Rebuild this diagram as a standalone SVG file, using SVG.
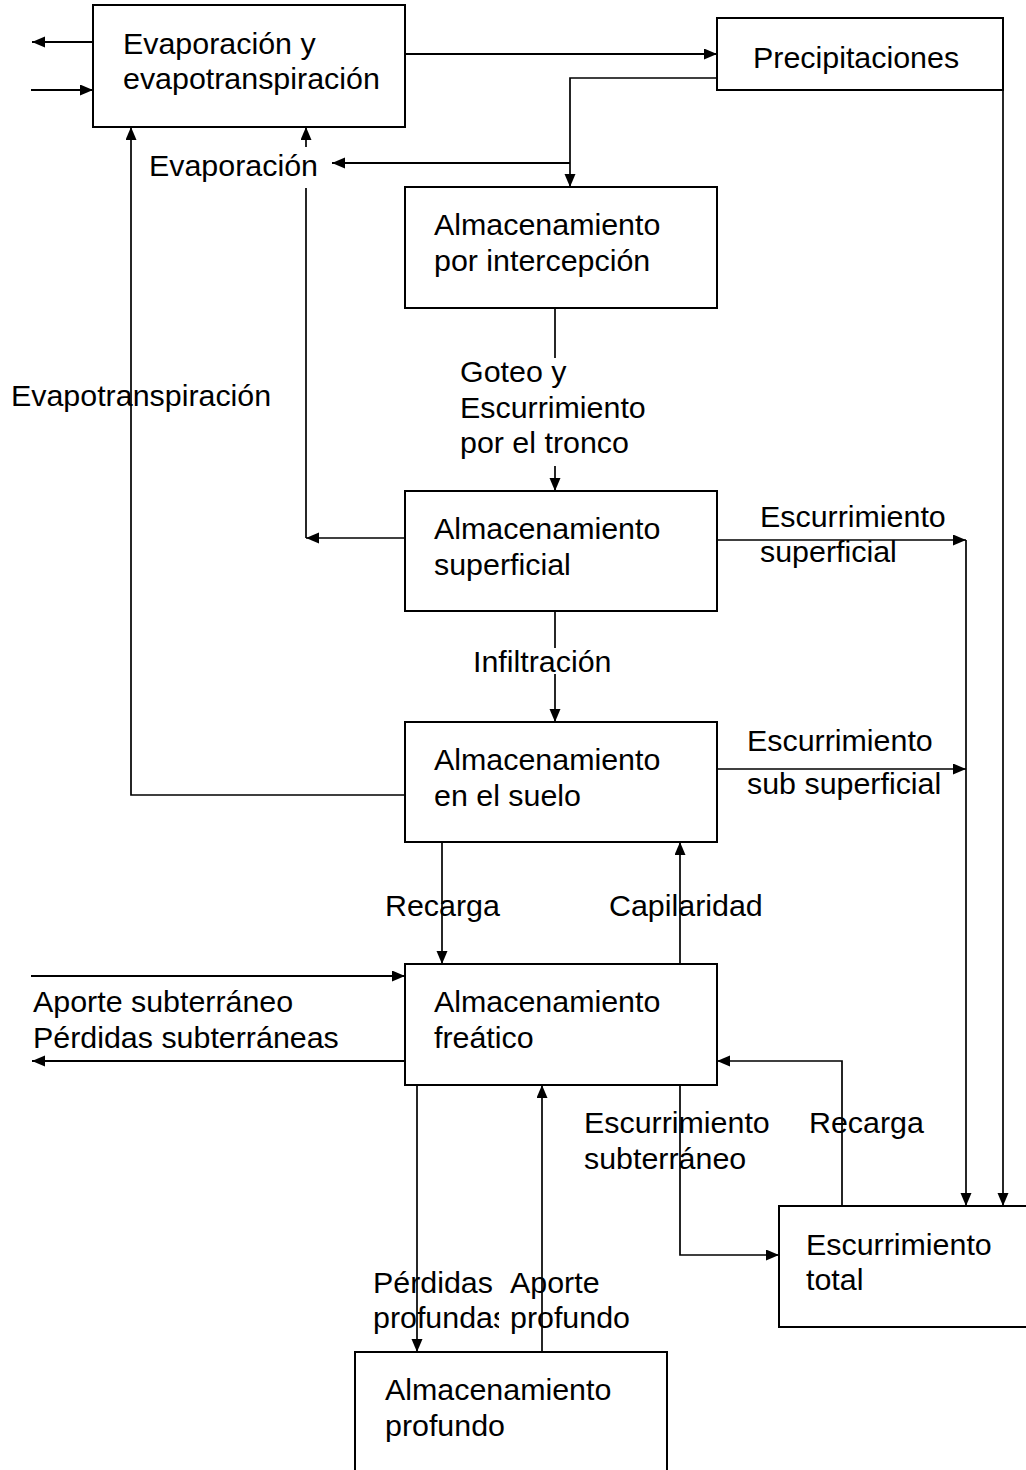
<svg xmlns="http://www.w3.org/2000/svg" width="1026" height="1470" viewBox="0 0 1026 1470">
<style>
.box{fill:#fff;stroke:#000;stroke-width:2}
.ln{fill:none;stroke:#000;stroke-width:1.7}
.lnb{fill:none;stroke:#000;stroke-width:2.2}
text{font-family:"Liberation Sans",Arial,sans-serif;font-size:30.4px;fill:#000}
.bg{fill:#fff;stroke:none}
</style>
<defs>
<marker id="ah" markerUnits="userSpaceOnUse" markerWidth="14" markerHeight="12" refX="13" refY="5.5" orient="auto">
<path d="M0,0 L13,5.5 L0,11 z" fill="#000"/>
</marker>
<clipPath id="clipPerd"><rect x="0" y="1260" width="499" height="90"/></clipPath>
</defs>
<rect width="1026" height="1470" fill="#fff"/>

<g id="connectors">
<path class="lnb" d="M93,42 H32" marker-end="url(#ah)"/>
<path class="lnb" d="M31,90 H93" marker-end="url(#ah)"/>
<path class="lnb" d="M405,54 H717" marker-end="url(#ah)"/>
<path class="ln" d="M717,78 H570 V187" marker-end="url(#ah)"/>
<path class="lnb" d="M570,163 H332" marker-end="url(#ah)"/>
<path class="ln" d="M1003,90 V1206" marker-end="url(#ah)"/>
<path class="ln" d="M555,309 V491" marker-end="url(#ah)"/>
<path class="ln" d="M405,538 H306" marker-end="url(#ah)"/>
<path class="ln" d="M306,538 V127" marker-end="url(#ah)"/>
<path class="ln" d="M405,795 H131 V127" marker-end="url(#ah)"/>
<path class="ln" d="M717,540 H966" marker-end="url(#ah)"/>
<path class="ln" d="M966,540 V1206" marker-end="url(#ah)"/>
<path class="ln" d="M717,769 H966" marker-end="url(#ah)"/>
<path class="ln" d="M555,612 V722" marker-end="url(#ah)"/>
<path class="ln" d="M442,842 V964" marker-end="url(#ah)"/>
<path class="ln" d="M680,964 V842" marker-end="url(#ah)"/>
<path class="lnb" d="M31,976 H405" marker-end="url(#ah)"/>
<path class="lnb" d="M405,1061 H32" marker-end="url(#ah)"/>
<path class="ln" d="M417,1085 V1352" marker-end="url(#ah)"/>
<path class="ln" d="M542,1352 V1085" marker-end="url(#ah)"/>
<path class="ln" d="M680,1085 V1255 H779" marker-end="url(#ah)"/>
<path class="ln" d="M842,1206 V1061 H717" marker-end="url(#ah)"/>
</g>

<g id="labels">
<rect class="bg" x="145" y="147" width="175" height="41"/>
<text x="149" y="176">Evaporación</text>
<text x="11" y="406">Evapotranspiración</text>
<rect class="bg" x="457" y="358" width="194" height="108"/>
<text x="460" y="382">Goteo y</text>
<text x="460" y="418">Escurrimiento</text>
<text x="460" y="453">por el tronco</text>
<rect class="bg" x="470" y="648" width="143" height="26"/>
<text x="473" y="672">Infiltración</text>
<text x="760" y="527">Escurrimiento</text>
<text x="760" y="562">superficial</text>
<text x="747" y="751">Escurrimiento</text>
<text x="747" y="794">sub superficial</text>
<text x="385" y="916">Recarga</text>
<text x="609" y="916">Capilaridad</text>
<text x="33" y="1012">Aporte subterráneo</text>
<text x="33" y="1048">Pérdidas subterráneas</text>
<text x="584" y="1133">Escurrimiento</text>
<text x="584" y="1169">subterráneo</text>
<text x="809" y="1133">Recarga</text>
<g clip-path="url(#clipPerd)">
<text x="373" y="1293">Pérdidas</text>
<text x="373" y="1328">profundas</text>
</g>
<text x="510" y="1293">Aporte</text>
<text x="510" y="1328">profundo</text>
</g>

<g id="node-evap">
<rect class="box" x="93" y="5" width="312" height="122"/>
<text x="123" y="54">Evaporación y</text>
<text x="123" y="89">evapotranspiración</text>
</g>
<g id="node-precip">
<rect class="box" x="717" y="18" width="286" height="72"/>
<text x="753" y="68">Precipitaciones</text>
</g>
<g id="node-intercepcion">
<rect class="box" x="405" y="187" width="312" height="121"/>
<text x="434" y="235">Almacenamiento</text>
<text x="434" y="271">por intercepción</text>
</g>
<g id="node-superficial">
<rect class="box" x="405" y="491" width="312" height="120"/>
<text x="434" y="539">Almacenamiento</text>
<text x="434" y="575">superficial</text>
</g>
<g id="node-suelo">
<rect class="box" x="405" y="722" width="312" height="120"/>
<text x="434" y="770">Almacenamiento</text>
<text x="434" y="806">en el suelo</text>
</g>
<g id="node-freatico">
<rect class="box" x="405" y="964" width="312" height="121"/>
<text x="434" y="1012">Almacenamiento</text>
<text x="434" y="1048">freático</text>
</g>
<g id="node-total">
<rect class="box" x="779" y="1206" width="260" height="121"/>
<text x="806" y="1255">Escurrimiento</text>
<text x="806" y="1290">total</text>
</g>
<g id="node-profundo">
<rect class="box" x="355" y="1352" width="312" height="130"/>
<text x="385" y="1400">Almacenamiento</text>
<text x="385" y="1436">profundo</text>
</g>
</svg>
